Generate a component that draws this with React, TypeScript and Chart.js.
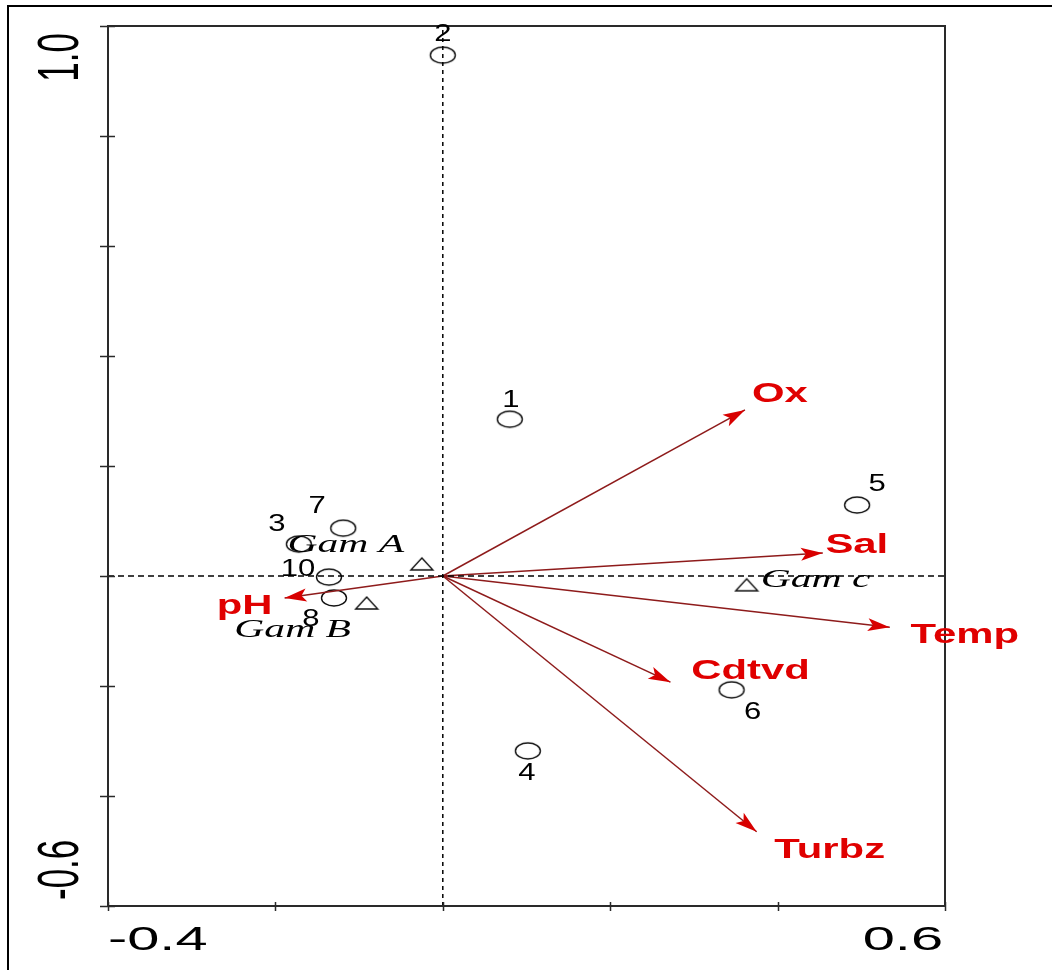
import React, { useEffect, useRef } from 'react';
import { Chart, registerables } from 'chart.js';

Chart.register(...registerables);

// ---------- data ----------
const siteNames = ['1', '2', '3', '4', '5', '6', '7', '8', '10'];
const siteX = [0.080, 0.0, -0.172, 0.1016, 0.495, 0.345, -0.119, -0.130, -0.136];
const siteY = [0.285, 0.947, 0.058, -0.318, 0.129, -0.207, 0.087, -0.040, -0.002];

const speciesNames = ['Gam A', 'Gam B', 'Gam c'];
const speciesX = [-0.025, -0.091, 0.363];
const speciesY = [0.022, -0.049, -0.016];

const envNames = ['Ox', 'Sal', 'Temp', 'Cdtvd', 'Turbz', 'pH'];
const envX = [0.361, 0.454, 0.534, 0.272, 0.375, -0.189];
const envY = [0.302, 0.042, -0.093, -0.193, -0.465, -0.040];

const xMin = -0.4;
const xMax = 0.6;
const yMin = -0.6;
const yMax = 1.0;
const xTicks = [-0.4, -0.2, 0, 0.2, 0.4, 0.6];
const yTicks = [-0.6, -0.4, -0.2, 0, 0.2, 0.4, 0.6, 0.8, 1.0];
const xTickLabels = ['-0.4', '', '', '', '', '0.6'];
const yTickLabels = ['-0.6', '', '', '', '', '', '', '', '1.0'];

// ---------- label placement (pixel offsets, style only) ----------
const siteLabelDx = [1, 0, -22, -1, 20, 21, -26, -23, -31];
const siteLabelDy = [-20, -22, -21, 21, -22, 21, -23, 20, -9];
const speciesLabelDx = [-76, -74, 69];
const speciesLabelDy = [-21, 25, -7];
const envLabelDx = [35, 34, 75, 80, 73, -40];
const envLabelDy = [-18, -10, 6, -13, 17, 6];

const SX = 1.55; // horizontal stretch of the reference image

function makeEllipse(): HTMLCanvasElement {
  const c = document.createElement('canvas');
  c.width = 30;
  c.height = 20;
  const g = c.getContext('2d')!;
  g.strokeStyle = '#111';
  g.lineWidth = 1.4;
  g.beginPath();
  g.ellipse(15, 10, 12.5, 8, 0, 0, Math.PI * 2);
  g.stroke();
  return c;
}

function makeTriangle(): HTMLCanvasElement {
  const c = document.createElement('canvas');
  c.width = 26;
  c.height = 16;
  const g = c.getContext('2d')!;
  g.strokeStyle = '#111';
  g.lineWidth = 1.4;
  g.beginPath();
  g.moveTo(13, 2);
  g.lineTo(24, 14);
  g.lineTo(2, 14);
  g.closePath();
  g.stroke();
  return c;
}

function drawText(
  ctx: CanvasRenderingContext2D,
  text: string,
  x: number,
  y: number,
  font: string,
  size: number,
  color: string,
  sx: number,
  align: CanvasTextAlign = 'center'
) {
  ctx.save();
  ctx.translate(x, y + size * 0.358);
  ctx.scale(sx, 1);
  ctx.font = `${font}`;
  ctx.fillStyle = color;
  ctx.textAlign = align;
  ctx.textBaseline = 'alphabetic';
  ctx.fillText(text, 0, 0);
  ctx.restore();
}

const decorPlugin = {
  id: 'ordiDecor',
  beforeDraw(chart: any) {
    const ctx = chart.ctx as CanvasRenderingContext2D;
    ctx.save();
    ctx.fillStyle = '#ffffff';
    ctx.fillRect(0, 0, chart.width, chart.height);
    ctx.restore();
  },
  afterDatasetsDraw(chart: any) {
    const ctx = chart.ctx as CanvasRenderingContext2D;
    const xs = chart.scales.x;
    const ys = chart.scales.y;
    const a = chart.chartArea;

    // arrowheads
    const ox = xs.getPixelForValue(0);
    const oy = ys.getPixelForValue(0);
    envX.forEach((vx, i) => {
      const px = xs.getPixelForValue(vx);
      const py = ys.getPixelForValue(envY[i]);
      const ang = Math.atan2(py - oy, px - ox);
      ctx.save();
      ctx.translate(px, py);
      ctx.rotate(ang);
      ctx.fillStyle = '#d80000';
      ctx.beginPath();
      ctx.moveTo(0, 0);
      ctx.lineTo(-22, -6.5);
      ctx.lineTo(-17, 0);
      ctx.lineTo(-22, 6.5);
      ctx.closePath();
      ctx.fill();
      ctx.restore();
    });

    // box
    ctx.save();
    ctx.strokeStyle = '#2a2a2a';
    ctx.lineWidth = 2;
    ctx.strokeRect(a.left, a.top, a.right - a.left, a.bottom - a.top);
    // ticks
    ctx.beginPath();
    xTicks.forEach((t) => {
      const p = Math.round(xs.getPixelForValue(t)) + 0.5;
      ctx.moveTo(p, a.bottom - 4);
      ctx.lineTo(p, a.bottom + 5);
    });
    yTicks.forEach((t) => {
      const p = Math.round(ys.getPixelForValue(t)) + 0.5;
      ctx.moveTo(a.left - 8, p);
      ctx.lineTo(a.left + 7, p);
    });
    ctx.lineWidth = 1.5;
    ctx.stroke();
    ctx.restore();

    // x tick labels
    xTicks.forEach((t, i) => {
      const lab = xTickLabels[i];
      if (!lab) return;
      const p = xs.getPixelForValue(t);
      const align: CanvasTextAlign = i === 0 ? 'left' : i === xTicks.length - 1 ? 'right' : 'center';
      ctx.save();
      ctx.translate(i === 0 ? p : p - 2, a.bottom + 44);
      ctx.scale(1.75, 1);
      ctx.font = '33px "Liberation Sans", Arial, sans-serif';
      ctx.fillStyle = '#000';
      ctx.textAlign = align;
      ctx.textBaseline = 'alphabetic';
      ctx.fillText(lab, 0, 0);
      ctx.restore();
    });
    // y tick labels (rotated)
    yTicks.forEach((t, i) => {
      const lab = yTickLabels[i];
      if (!lab) return;
      const p = ys.getPixelForValue(t);
      const first = i === 0;
      ctx.save();
      ctx.translate(a.left - 30, first ? p - 6 : p + 7);
      ctx.scale(1.64, 1);
      ctx.rotate(-Math.PI / 2);
      ctx.font = '35px "Liberation Sans", Arial, sans-serif';
      ctx.fillStyle = '#000';
      ctx.textAlign = first ? 'left' : 'right';
      ctx.textBaseline = 'alphabetic';
      ctx.fillText(lab, 0, 0);
      ctx.restore();
    });

    // site labels
    siteNames.forEach((n, i) => {
      const px = xs.getPixelForValue(siteX[i]) + siteLabelDx[i];
      const py = ys.getPixelForValue(siteY[i]) + siteLabelDy[i];
      drawText(ctx, n, px, py, '23px "Liberation Sans", Arial, sans-serif', 23, '#000', 1.35);
    });
    // species labels
    speciesNames.forEach((n, i) => {
      const px = xs.getPixelForValue(speciesX[i]) + speciesLabelDx[i];
      const py = ys.getPixelForValue(speciesY[i]) + speciesLabelDy[i];
      drawText(ctx, n, px, py, 'italic 26px "Liberation Serif", "Times New Roman", serif', 26, '#000', 1.6);
    });
    // env labels
    envNames.forEach((n, i) => {
      const px = xs.getPixelForValue(envX[i]) + envLabelDx[i];
      const py = ys.getPixelForValue(envY[i]) + envLabelDy[i];
      drawText(ctx, n, px, py, 'bold 27px "Liberation Sans", Arial, sans-serif', 27, '#e00000', SX);
    });
  },
  afterDraw(chart: any) {
    const ctx = chart.ctx as CanvasRenderingContext2D;
    ctx.save();
    ctx.strokeStyle = '#000';
    ctx.lineWidth = 2;
    ctx.beginPath();
    ctx.moveTo(8, chart.height);
    ctx.lineTo(8, 6);
    ctx.lineTo(chart.width, 6);
    ctx.stroke();
    ctx.restore();
  },
};

export default function App() {
  const ref = useRef<HTMLCanvasElement | null>(null);

  useEffect(() => {
    if (!ref.current) return;
    const ellipse = makeEllipse();
    const tri = makeTriangle();

    const arrowSets = envNames.map((n, i) => ({
      type: 'line' as const,
      label: n,
      data: [
        { x: 0, y: 0 },
        { x: envX[i], y: envY[i] },
      ],
      borderColor: '#8e1b1b',
      borderWidth: 1.5,
      pointRadius: 0,
      showLine: true,
      fill: false,
    }));

    const chart = new Chart(ref.current, {
      type: 'scatter',
      data: {
        datasets: [
          {
            type: 'line',
            label: 'h0',
            data: [
              { x: xMin, y: 0 },
              { x: xMax, y: 0 },
            ],
            borderColor: '#000',
            borderWidth: 1.5,
            borderDash: [6, 4],
            pointRadius: 0,
            showLine: true,
          },
          {
            type: 'line',
            label: 'v0',
            data: [
              { x: 0, y: yMin },
              { x: 0, y: yMax },
            ],
            borderColor: '#000',
            borderWidth: 1.5,
            borderDash: [4, 4],
            pointRadius: 0,
            showLine: true,
          },
          ...arrowSets,
          {
            label: 'sites',
            data: siteX.map((x, i) => ({ x, y: siteY[i] })),
            pointStyle: ellipse as any,
            pointRadius: 10,
            showLine: false,
          },
          {
            label: 'species',
            data: speciesX.map((x, i) => ({ x, y: speciesY[i] })),
            pointStyle: tri as any,
            pointRadius: 10,
            showLine: false,
          },
        ] as any,
      },
      options: {
        animation: false,
        responsive: false,
        devicePixelRatio: 1,
        layout: { padding: { left: 108, top: 26, right: 107, bottom: 64 } },
        plugins: { legend: { display: false }, tooltip: { enabled: false } },
        scales: {
          x: { type: 'linear', min: xMin, max: xMax, display: false },
          y: { type: 'linear', min: yMin, max: yMax, display: false },
        },
      },
      plugins: [decorPlugin],
    });
    return () => chart.destroy();
  }, []);

  return (
    <div style={{ position: 'absolute', left: 0, top: 0, width: 1052, height: 970, background: '#fff' }}>
      <canvas ref={ref} width={1052} height={970} style={{ display: 'block' }} />
    </div>
  );
}
